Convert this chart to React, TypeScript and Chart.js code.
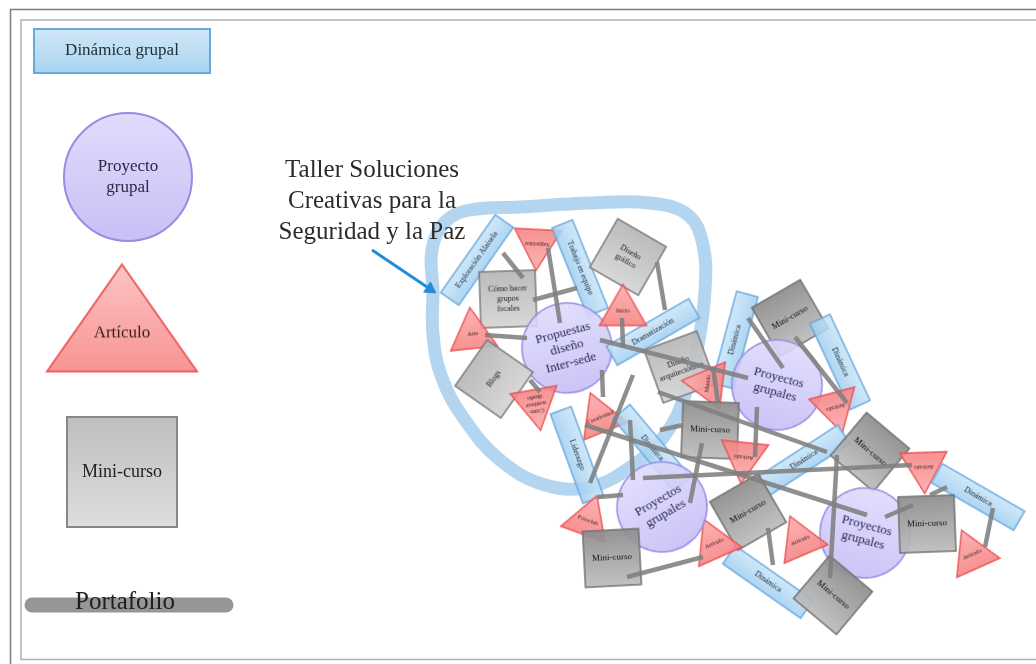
import React, { useEffect, useRef } from 'react';
import { Chart, registerables } from 'chart.js';

Chart.register(...registerables);

const W = 1036;
const H = 664;

// ---------- Nodes (diagram elements) ----------
const nodeLabels = [
  'Dinámica grupal', 'Proyecto\ngrupal', 'Artículo', 'Mini-curso',
  'Exploración Alaisela', 'Seguridad', 'Trabajo en equipo', 'Diseño\ngráfico',
  'Cómo hacer\ngrupos\nfocales', 'Arte', 'Propuestas\ndiseño\nInter-sede', 'Dramatización',
  'Inicio', 'Blogs', 'Cómo\nnombrar\ndiseño', 'Creatividad',
  'Diseño\narquitectónico', 'Liderazgo', 'Fotoclub', 'Dinámica',
  'Mini-curso', 'Dinámica', 'Proyectos\ngrupales', 'Mundo',
  'Mini-curso', 'Artículo', 'Dinámica', 'Artículo',
  'Dinámica', 'Mini-curso', 'Proyectos\ngrupales', 'Artículo',
  'Dinámica', 'Mini-curso', 'Artículo', 'Dinámica',
  'Mini-curso', 'Mini-curso', 'Artículo', 'Artículo',
  'Proyectos\ngrupales', 'Mini-curso',
];
const nodeKinds = [
  'dynL', 'projL', 'artL', 'miniL',
  'dyn', 'art', 'dyn', 'miniLight',
  'miniLight', 'art', 'proj', 'dyn',
  'art', 'miniLight', 'art', 'art',
  'miniLight', 'dyn', 'art', 'dyn',
  'mini', 'dyn', 'proj', 'art',
  'mini', 'art', 'dyn', 'art',
  'dyn', 'mini', 'proj', 'art',
  'dyn', 'mini', 'art', 'dyn',
  'mini', 'mini', 'art', 'art',
  'proj', 'mini',
];
const nodeX = [
  122, 128, 122, 122,
  477, 537, 580, 628,
  508, 472, 567, 653,
  623, 494, 537, 598,
  680, 577, 590, 735,
  790, 840, 777, 702,
  710, 743, 652, 837,
  804, 870, 865, 924,
  978, 927, 970, 768,
  833, 748, 798, 712,
  662, 612,
];
const nodeY = [
  51, 177, 318, 472,
  260, 250, 268, 257,
  299, 328, 348, 332,
  305, 379, 410, 412,
  367, 455, 515, 340,
  318, 362, 385, 383,
  430, 463, 448, 413,
  460, 452, 533, 473,
  497, 524, 549, 582,
  595, 512, 535, 538,
  507, 558,
];
const nodeAngle = [
  0, 0, 0, 0,
  -55, 183, 68, 30,
  -2, -6, -15, -30,
  0, -55, 170, -22,
  -20, 70, 20, -75,
  -30, 65, 15, -83,
  2, 186, 50, 165,
  -33, 40, 15, 178,
  30, -2, -24, 35,
  40, -30, -23, -24,
  -30, -3,
];

// ---------- Connectors ----------
const linkX1 = [503, 533, 548, 485, 600, 622, 657, 602, 530, 658, 585, 590, 598, 630, 643, 660, 748, 795, 757, 702, 837, 885, 993, 768, 627, 713, 947];
const linkY1 = [253, 300, 248, 335, 340, 318, 262, 370, 380, 392, 425, 483, 497, 420, 478, 430, 318, 337, 407, 443, 455, 517, 508, 528, 577, 367, 487];
const linkX2 = [523, 577, 560, 527, 748, 623, 665, 603, 540, 827, 867, 633, 623, 633, 912, 683, 783, 847, 755, 690, 830, 913, 985, 773, 703, 718, 930];
const linkY2 = [278, 288, 323, 338, 378, 347, 310, 397, 392, 452, 515, 375, 495, 480, 465, 425, 368, 403, 457, 503, 578, 505, 547, 565, 557, 403, 495];

// ---------- Workshop loop ----------
const loopX = [433, 432, 445, 470, 520, 590, 650, 688, 703, 705, 698, 685, 665, 632, 590, 545, 500, 465, 442, 433, 433];
const loopY = [290, 250, 222, 210, 207, 203, 203, 215, 245, 290, 345, 395, 435, 466, 487, 485, 460, 420, 378, 335, 290];

// ---------- Arrow & portfolio bar ----------
const arrowX = [372, 430];
const arrowY = [250, 289];
const barX = [32, 226];
const barY = [605, 605];

const titleLines = ['Taller Soluciones', 'Creativas para la', 'Seguridad y la Paz'];
const portfolioLabel = 'Portafolio';

const SERIF = '"Liberation Serif", "DejaVu Serif", serif';

type KindStyle = {
  shape: 'rect' | 'circle' | 'tri';
  w: number; h: number;
  fill: [string, string];
  stroke: string; lw: number;
  font: number; text: string;
};

const KIND_STYLE: Record<string, KindStyle> = {
  dynL: { shape: 'rect', w: 176, h: 44, fill: ['rgba(208,232,247,1)', 'rgba(168,212,240,1)'], stroke: 'rgba(105,168,220,1)', lw: 2, font: 17, text: '#22303c' },
  dyn: { shape: 'rect', w: 95, h: 22, fill: ['rgba(200,228,247,0.85)', 'rgba(160,206,240,0.85)'], stroke: 'rgba(100,165,222,0.9)', lw: 1.5, font: 8, text: '#223040' },
  projL: { shape: 'circle', w: 128, h: 128, fill: ['rgba(224,220,252,1)', 'rgba(200,192,246,1)'], stroke: 'rgba(150,140,226,1)', lw: 2, font: 17, text: '#2a2a40' },
  proj: { shape: 'circle', w: 90, h: 90, fill: ['rgba(222,218,252,0.88)', 'rgba(196,188,246,0.88)'], stroke: 'rgba(150,140,226,0.95)', lw: 1.5, font: 13, text: '#2a2a55' },
  artL: { shape: 'tri', w: 150, h: 107, fill: ['rgba(252,196,196,1)', 'rgba(249,148,148,1)'], stroke: 'rgba(238,95,95,1)', lw: 2, font: 17, text: '#3a2020' },
  art: { shape: 'tri', w: 47, h: 41, fill: ['rgba(252,170,170,0.88)', 'rgba(246,130,130,0.88)'], stroke: 'rgba(236,80,80,0.95)', lw: 1.5, font: 6, text: '#402020' },
  miniL: { shape: 'rect', w: 110, h: 110, fill: ['rgba(190,190,190,1)', 'rgba(222,222,222,1)'], stroke: 'rgba(135,135,135,1)', lw: 2, font: 18, text: '#222' },
  mini: { shape: 'rect', w: 56, h: 56, fill: ['rgba(140,140,140,0.92)', 'rgba(188,188,188,0.92)'], stroke: 'rgba(110,110,110,0.95)', lw: 1.5, font: 9, text: '#111' },
  miniLight: { shape: 'rect', w: 56, h: 56, fill: ['rgba(182,182,182,0.92)', 'rgba(212,212,212,0.92)'], stroke: 'rgba(120,120,120,0.95)', lw: 1.5, font: 8, text: '#222' },
};

function makeNodeImage(kind: string, label: string): HTMLCanvasElement {
  const s = KIND_STYLE[kind];
  const pad = 3;
  const c = document.createElement('canvas');
  c.width = Math.ceil(s.w + pad * 2);
  c.height = Math.ceil(s.h + pad * 2);
  const g = c.getContext('2d') as CanvasRenderingContext2D;
  const x0 = pad;
  const y0 = pad;
  const grad = g.createLinearGradient(0, y0, 0, y0 + s.h);
  grad.addColorStop(0, s.fill[0]);
  grad.addColorStop(1, s.fill[1]);
  g.beginPath();
  if (s.shape === 'rect') {
    g.rect(x0, y0, s.w, s.h);
  } else if (s.shape === 'circle') {
    g.arc(x0 + s.w / 2, y0 + s.h / 2, s.w / 2, 0, Math.PI * 2);
  } else {
    g.moveTo(x0 + s.w / 2, y0);
    g.lineTo(x0 + s.w, y0 + s.h);
    g.lineTo(x0, y0 + s.h);
    g.closePath();
  }
  g.fillStyle = grad;
  g.fill();
  g.lineWidth = s.lw;
  g.strokeStyle = s.stroke;
  g.stroke();
  const lines = label.split('\n');
  g.fillStyle = s.text;
  g.font = `${s.font}px ${SERIF}`;
  g.textAlign = 'center';
  g.textBaseline = 'middle';
  const lh = s.font * 1.2;
  const cy = y0 + s.h * (s.shape === 'tri' ? 0.64 : 0.5);
  lines.forEach((ln, i) => {
    g.fillText(ln, x0 + s.w / 2, cy + (i - (lines.length - 1) / 2) * lh);
  });
  return c;
}

const decorPlugin = {
  id: 'decor',
  beforeDatasetsDraw(chart: any) {
    const { ctx, scales } = chart;
    const px = (v: number) => scales.x.getPixelForValue(v);
    const py = (v: number) => scales.y.getPixelForValue(v);
    ctx.save();
    ctx.strokeStyle = 'rgb(125,125,125)';
    ctx.lineWidth = 1.5;
    ctx.beginPath();
    ctx.moveTo(px(1036), py(9.5));
    ctx.lineTo(px(10.5), py(9.5));
    ctx.lineTo(px(10.5), py(664));
    ctx.stroke();
    ctx.strokeStyle = 'rgb(175,175,175)';
    ctx.beginPath();
    ctx.moveTo(px(1036), py(20));
    ctx.lineTo(px(21), py(20));
    ctx.lineTo(px(21), py(659.5));
    ctx.lineTo(px(1036), py(659.5));
    ctx.stroke();
    ctx.restore();
  },
  afterDatasetsDraw(chart: any) {
    const { ctx, scales } = chart;
    const px = (v: number) => scales.x.getPixelForValue(v);
    const py = (v: number) => scales.y.getPixelForValue(v);
    ctx.save();
    ctx.fillStyle = '#2b2b2b';
    ctx.textAlign = 'center';
    ctx.textBaseline = 'middle';
    ctx.font = `25px ${SERIF}`;
    titleLines.forEach((t, i) => ctx.fillText(t, px(372), py(170 + i * 31)));
    ctx.fillStyle = '#1e1e1e';
    ctx.font = `25px ${SERIF}`;
    ctx.fillText(portfolioLabel, px(125), py(602));
    ctx.restore();
  },
};

export default function App() {
  const ref = useRef<HTMLCanvasElement | null>(null);

  useEffect(() => {
    if (!ref.current) return;
    const images = nodeLabels.map((l, i) => makeNodeImage(nodeKinds[i], l));
    const nodePts = nodeX.map((x, i) => ({ x, y: nodeY[i] }));
    const loopPts = loopX.map((x, i) => ({ x, y: loopY[i] }));

    const datasets: any[] = [];
    datasets.push({
      type: 'line', data: loopPts, borderColor: 'rgba(160,202,236,0.8)', borderWidth: 13,
      pointRadius: 0, tension: 0.4, fill: false, order: 10,
    });
    datasets.push({
      type: 'line', data: barX.map((x, i) => ({ x, y: barY[i] })), borderColor: 'rgb(150,150,150)',
      borderWidth: 15, borderCapStyle: 'round', pointRadius: 0, fill: false, order: 9,
    });
    datasets.push({
      type: 'scatter', data: nodePts, pointStyle: images, rotation: nodeAngle,
      pointRadius: 2, order: 5,
    });
    linkX1.forEach((x1, i) => {
      datasets.push({
        type: 'line',
        data: [{ x: x1, y: linkY1[i] }, { x: linkX2[i], y: linkY2[i] }],
        borderColor: 'rgba(128,128,128,0.88)', borderWidth: 4.5, borderCapStyle: 'butt',
        pointRadius: 0, fill: false, order: 2,
      });
    });
    datasets.push({
      type: 'line', data: arrowX.map((x, i) => ({ x, y: arrowY[i] })),
      borderColor: 'rgb(35,140,215)', borderWidth: 3, pointRadius: [0, 7], pointStyle: 'triangle',
      rotation: 124, pointBackgroundColor: 'rgb(35,140,215)', pointBorderColor: 'rgb(35,140,215)',
      pointBorderWidth: 1, fill: false, order: 1,
    });

    const chart = new Chart(ref.current, {
      type: 'scatter',
      data: { datasets },
      options: {
        animation: false,
        responsive: true,
        maintainAspectRatio: false,
        events: [],
        layout: { padding: 0, autoPadding: false },
        plugins: { legend: { display: false }, tooltip: { enabled: false } },
        scales: {
          x: { type: 'linear', min: 0, max: W, display: false },
          y: { type: 'linear', min: 0, max: H, reverse: true, display: false },
        },
      },
      plugins: [decorPlugin],
    } as any);
    return () => chart.destroy();
  }, []);

  return (
    <div style={{ position: 'absolute', left: 0, top: 0, width: W, height: H, background: '#fff' }}>
      <canvas ref={ref} />
    </div>
  );
}
